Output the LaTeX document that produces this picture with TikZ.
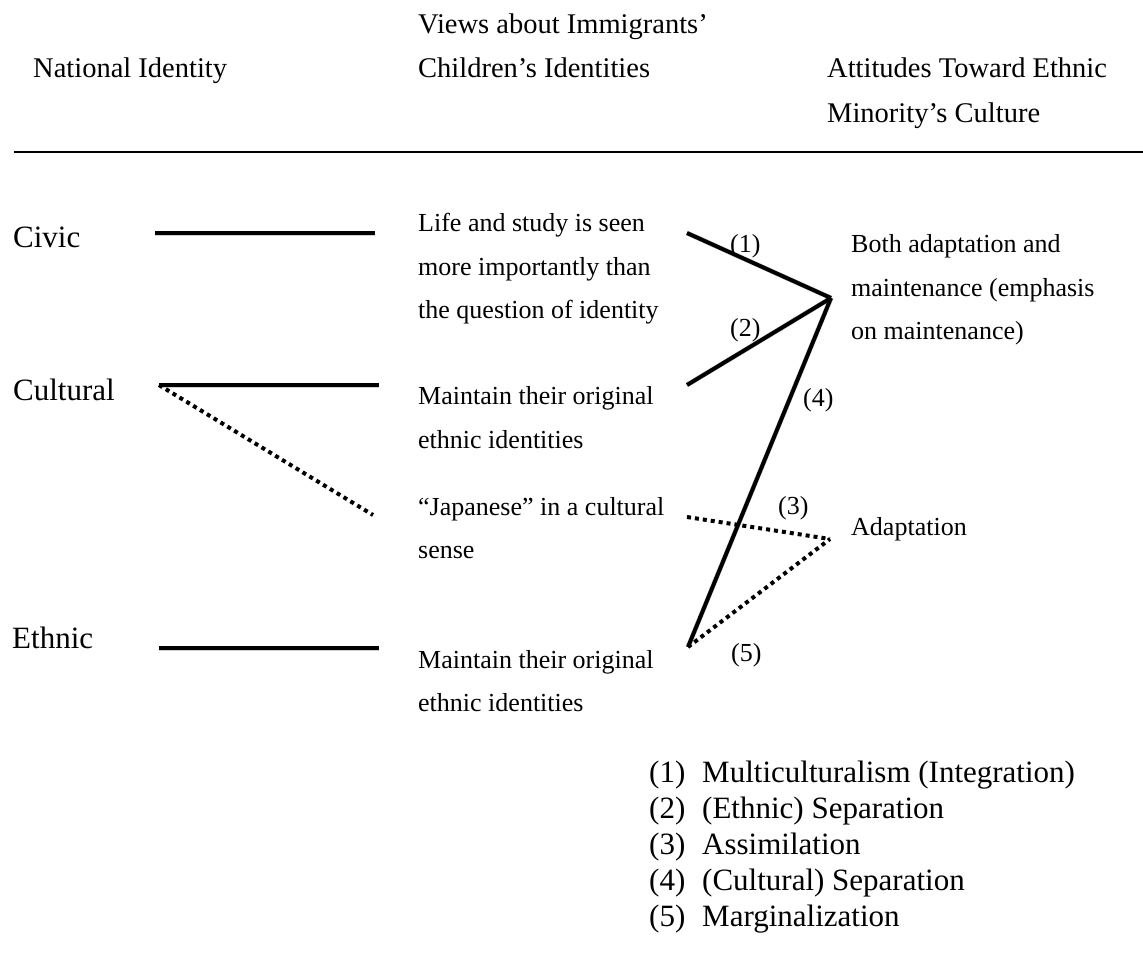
\documentclass[tikz,border=0pt]{standalone}
\usepackage{fontspec}
\setmainfont{Liberation Serif}
\begin{document}
\begin{tikzpicture}[x=1pt,y=-1pt,
  hdr/.style={font=\fontsize{28.5}{30}\selectfont, anchor=base west, inner sep=0pt},
  body/.style={font=\fontsize{26}{28}\selectfont, anchor=base west, inner sep=0pt},
  side/.style={font=\fontsize{31}{33}\selectfont, anchor=base west, inner sep=0pt},
  leg/.style={font=\fontsize{31}{33}\selectfont, anchor=base west, inner sep=0pt},
  solidline/.style={line width=4pt, line cap=butt},
  dotline/.style={line width=4pt, dash pattern=on 4pt off 4pt},
  shadowline/.style={line width=5pt, black, opacity=0.18, shift={(1.2pt,-2.5pt)}},
]
\useasboundingbox (0,0) rectangle (1143,959);
\fill[white] (0,0) rectangle (1143,959);

% header
\node[hdr] (h1) at (418,33) {Views about Immigrants’};
\node[hdr] (h2) at (33,77) {National Identity};
\node[hdr] (h3) at (418,77) {Children’s Identities};
\node[hdr] (h4) at (827,77) {Attitudes Toward Ethnic};
\node[hdr] (h5) at (827,122) {Minority’s Culture};
\coordinate (ruleL) at (14,152);
\coordinate (ruleR) at (1143,152);
\draw[line width=2.5pt] (ruleL) -- (ruleR);

% side labels
\node[side] (civic) at (13,247) {Civic};
\node[side] (cultural) at (13,400) {Cultural};
\node[side] (ethnic) at (12,648) {Ethnic};

% middle texts
\node[body] (m1a) at (418,231) {Life and study is seen};
\node[body] (m1b) at (418,275) {more importantly than};
\node[body] (m1c) at (418,318) {the question of identity};
\node[body] (m2a) at (418,404) {Maintain their original};
\node[body] (m2b) at (418,448) {ethnic identities};
\node[body] (m3a) at (418,515) {“Japanese” in a cultural};
\node[body] (m3b) at (418,558) {sense};
\node[body] (m4a) at (418,668) {Maintain their original};
\node[body] (m4b) at (418,711) {ethnic identities};

% right texts
\node[body] (r1a) at (851,252) {Both adaptation and};
\node[body] (r1b) at (851,296) {maintenance (emphasis};
\node[body] (r1c) at (851,339) {on maintenance)};
\node[body] (r2) at (851,535) {Adaptation};

% connector end points
\coordinate (civL) at (155,233);
\coordinate (civR) at (375,233);
\coordinate (culL) at (159,385);
\coordinate (culR) at (379,385);
\coordinate (culD) at (373,515);
\coordinate (ethL) at (159,648);
\coordinate (ethR) at (379,648);
\coordinate (vLife) at (687,233);
\coordinate (vMaint) at (687,385);
\coordinate (vJap) at (687,517);
\coordinate (vEth) at (688,647);
\coordinate (aBoth) at (831,298);
\coordinate (aAdapt) at (830,539);

% shadows
\begin{scope}[shadowline]
\draw (civL) -- (civR);
\draw (culL) -- (culR);
\draw (ethL) -- (ethR);
\draw (vLife) -- (aBoth);
\draw (vMaint) -- (aBoth);
\draw (aBoth) -- (vEth);
\end{scope}

% left lines
\draw[solidline] (civL) -- (civR);
\draw[solidline] (culL) -- (culR);
\draw[dotline] (culL) -- (culD);
\draw[solidline] (ethL) -- (ethR);

% right lines
\draw[solidline] (vLife) -- (aBoth);
\draw[solidline] (vMaint) -- (aBoth);
\draw[solidline] (aBoth) -- (vEth);
\draw[dotline] (vJap) -- (aAdapt);
\draw[dotline] (vEth) -- (aAdapt);

% edge labels
\node[body] (l1) at (730,252) {(1)};
\node[body] (l2) at (730,336) {(2)};
\node[body] (l4) at (803,406) {(4)};
\node[body] (l3) at (778,514) {(3)};
\node[body] (l5) at (731,661) {(5)};

% legend
\node[leg] (n1) at (649,782) {(1)};
\node[leg] (t1) at (702,782) {Multiculturalism (Integration)};
\node[leg] (n2) at (649,818) {(2)};
\node[leg] (t2) at (702,818) {(Ethnic) Separation};
\node[leg] (n3) at (649,854) {(3)};
\node[leg] (t3) at (702,854) {Assimilation};
\node[leg] (n4) at (649,890) {(4)};
\node[leg] (t4) at (702,890) {(Cultural) Separation};
\node[leg] (n5) at (649,926) {(5)};
\node[leg] (t5) at (702,926) {Marginalization};
\end{tikzpicture}
\end{document}
